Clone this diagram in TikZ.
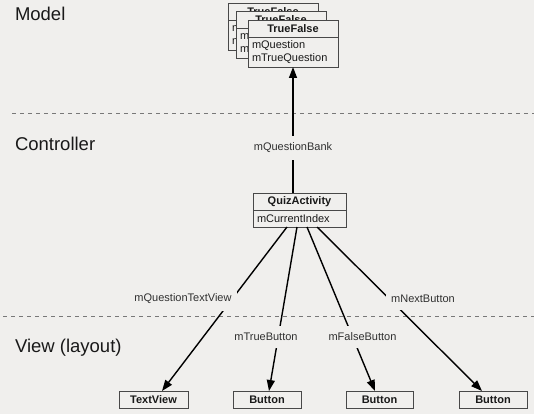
\documentclass[tikz,border=0pt]{standalone}
\usepackage{fontspec}
\setmainfont{Liberation Sans}
\usetikzlibrary{arrows.meta}
\definecolor{paper}{RGB}{240,239,237}
\definecolor{edge}{RGB}{72,72,72}
\definecolor{ink}{RGB}{25,25,25}
\definecolor{rule}{RGB}{120,120,120}

\begin{document}
\begin{tikzpicture}[x=1pt,y=-1pt,
  every node/.style={inner sep=0pt, outer sep=0pt},
  layer/.style={font=\fontsize{18.5}{22}\selectfont, text=ink, anchor=base west},
  sep/.style={draw=rule, dash pattern=on 4pt off 4pt, line width=0.8pt},
  head/.style={draw=edge, fill=paper, line width=0.9pt, minimum width=90pt,
    minimum height=17pt, font=\fontsize{11}{13}\selectfont\bfseries, text=ink},
  body/.style={draw=edge, fill=paper, line width=0.9pt, minimum width=90pt,
    minimum height=30pt, anchor=north, font=\fontsize{11}{13}\selectfont,
    text=ink, align=left, text width=82pt},
  arr/.style={draw=black, line width=1.4pt, -{Triangle[length=11pt,width=8pt]}},
  lbl/.style={fill=paper, font=\fontsize{11}{13}\selectfont, text=ink!90,
    inner xsep=5pt, inner ysep=7pt}]

% canvas
\fill[paper] (0,0) rectangle (534,414);
\useasboundingbox (0,0) rectangle (534,414);

% layer separators and titles
\draw[sep] (12,113) -- (534,113);
\draw[sep] (3,316.5) -- (534,316.5);
\node[layer] (model) at (15,20.7) {Model};
\node[layer] (controller) at (15,150) {Controller};
\node[layer] (view) at (15,352.5) {View (layout)};

% stacked TrueFalse instances (model); only the edges of the back cards show
\node[head, anchor=north west] (tfAh) at (228,3) {TrueFalse};
\node[body] (tfAb) at (tfAh.south) {m\\m};
\node[head, anchor=north west] (tfBh) at (236,11.5) {TrueFalse};
\node[body] (tfBb) at (tfBh.south) {m\\m};
\node[head, anchor=north west] (tfh) at (248,20) {TrueFalse};
\node[body] (tfb) at (tfh.south) {mQuestion\\mTrueQuestion};

% controller
\node[head, minimum width=93pt, anchor=north west] (qah) at (253,193) {QuizActivity};
\node[body, minimum width=93pt, minimum height=17pt, text width=85pt] (qab)
  at (qah.south) {mCurrentIndex};

% view widgets
\node[head, minimum width=69pt] (tv) at (153.5,399.5) {TextView};
\node[head, minimum width=68pt] (btrue) at (267,399.5) {Button};
\node[head, minimum width=67pt] (bfalse) at (379.5,399.5) {Button};
\node[head, minimum width=68pt] (bnext) at (493,399.5) {Button};

% references
\draw[arr] (qah.north -| tfb.south) -- (tfb.south);
\draw[arr] ([xshift=-12.5pt]qab.south) -- ([xshift=8.5pt]tv.north);
\draw[arr] ([xshift=-2.5pt]qab.south) -- ([xshift=2pt]btrue.north);
\draw[arr] ([xshift=7.5pt]qab.south) -- ([xshift=-4.5pt]bfalse.north);
\draw[arr] ([xshift=17.5pt]qab.south) -- ([xshift=-11pt]bnext.north);

% reference names
\node[lbl] (lbank) at (293,148) {mQuestionBank};
\node[lbl] (lqtv) at (183,299) {mQuestionTextView};
\node[lbl] (ltrue) at (266,337) {mTrueButton};
\node[lbl] (lfalse) at (362.5,337) {mFalseButton};
\node[lbl] (lnext) at (423,299) {mNextButton};
\end{tikzpicture}
\end{document}
